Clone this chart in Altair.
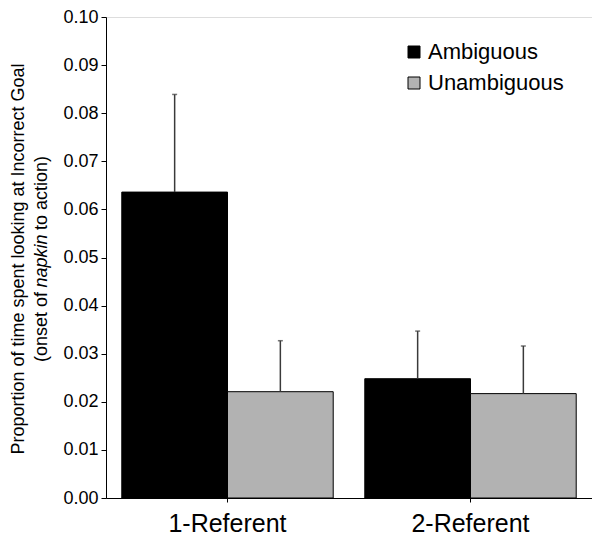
import altair as alt
import pandas as pd

# ---- data ----
groups = ["1-Referent", "1-Referent", "2-Referent", "2-Referent"]
conditions = ["Ambiguous", "Unambiguous", "Ambiguous", "Unambiguous"]
means = [0.0636, 0.0221, 0.0248, 0.0217]
uppers = [0.0839, 0.0327, 0.0347, 0.0316]
y_ticks = [0.00, 0.01, 0.02, 0.03, 0.04, 0.05, 0.06, 0.07, 0.08, 0.09, 0.10]
legend_order = ["Ambiguous", "Unambiguous"]
bar_colors = ["#000000", "#b2b2b2"]
title_line1 = ["Proportion of time spent looking at Incorrect Goal"]
title_line2 = ["(onset of", "napkin", "to action)"]

df = pd.DataFrame({"group": groups, "condition": conditions,
                   "mean": means, "upper": uppers})

FONT = "Liberation Sans"

x_enc = alt.X("group:N", sort=["1-Referent", "2-Referent"],
              scale=alt.Scale(paddingInner=0.13, paddingOuter=0.065),
              axis=alt.Axis(title=None, labelAngle=0, labelFontSize=25, labelFont=FONT,
                            labelColor="black", tickSize=4, tickColor="black",
                            domainColor="black", labelPadding=9))
xoff_enc = alt.XOffset("condition:N", sort=legend_order,
                       scale=alt.Scale(paddingInner=0, paddingOuter=0))
y_scale = alt.Scale(domain=[0, 0.1], nice=False)

bars = alt.Chart(df).mark_bar(stroke="black", strokeWidth=1).encode(
    x=x_enc,
    xOffset=xoff_enc,
    y=alt.Y("mean:Q", scale=y_scale,
            axis=alt.Axis(title=None, values=y_ticks, format=".2f", labelFontSize=18,
                          labelFont=FONT, labelColor="black", tickSize=5,
                          tickColor="black", domainColor="black", grid=False,
                          labelPadding=3)),
    color=alt.Color("condition:N",
                    scale=alt.Scale(domain=legend_order, range=bar_colors),
                    legend=alt.Legend(title=None, orient="none", legendX=297, legendY=24,
                                      symbolType="square", symbolSize=144,
                                      symbolStrokeColor="black", symbolStrokeWidth=1,
                                      labelFontSize=22, labelFont=FONT, labelColor="black",
                                      labelOffset=3, rowPadding=9, padding=0)),
)

err = alt.Chart(df).mark_rule(color="#3a3a3a", strokeWidth=1.5).encode(
    x=x_enc, xOffset=xoff_enc, y=alt.Y("mean:Q", scale=y_scale), y2="upper:Q")

cap = alt.Chart(df).mark_tick(color="#3a3a3a", thickness=1.5, size=5).encode(
    x=x_enc, xOffset=xoff_enc, y=alt.Y("upper:Q", scale=y_scale))

# y-axis title built from text marks (second line has italic word)
cy = 242
t1 = alt.Chart(pd.DataFrame({"t": title_line1})).mark_text(
    angle=270, fontSize=18, font=FONT, color="black", align="center", baseline="middle"
).encode(text="t:N", x=alt.value(-87), y=alt.value(cy))

t2a = alt.Chart(pd.DataFrame({"t": [title_line2[0]]})).mark_text(
    angle=270, fontSize=18, font=FONT, color="black", align="right", baseline="middle"
).encode(text="t:N", x=alt.value(-64), y=alt.value(cy + 33))
t2b = alt.Chart(pd.DataFrame({"t": [title_line2[1]]})).mark_text(
    angle=270, fontSize=18, font=FONT, fontStyle="italic", color="black", align="center",
    baseline="middle"
).encode(text="t:N", x=alt.value(-64), y=alt.value(cy + 2))
t2c = alt.Chart(pd.DataFrame({"t": [title_line2[2]]})).mark_text(
    angle=270, fontSize=18, font=FONT, color="black", align="left", baseline="middle"
).encode(text="t:N", x=alt.value(-64), y=alt.value(cy - 29))

chart = alt.layer(bars, err, cap, t1, t2a, t2b, t2c).properties(
    width=486, height=481,
    autosize=alt.AutoSizeParams(type="none"),
    padding={"left": 98, "top": 9, "right": 0, "bottom": 38},
).configure_view(stroke="black", strokeWidth=1).configure(background="white")

chart.save("out.html", embed_options={"renderer": "svg", "actions": False})
